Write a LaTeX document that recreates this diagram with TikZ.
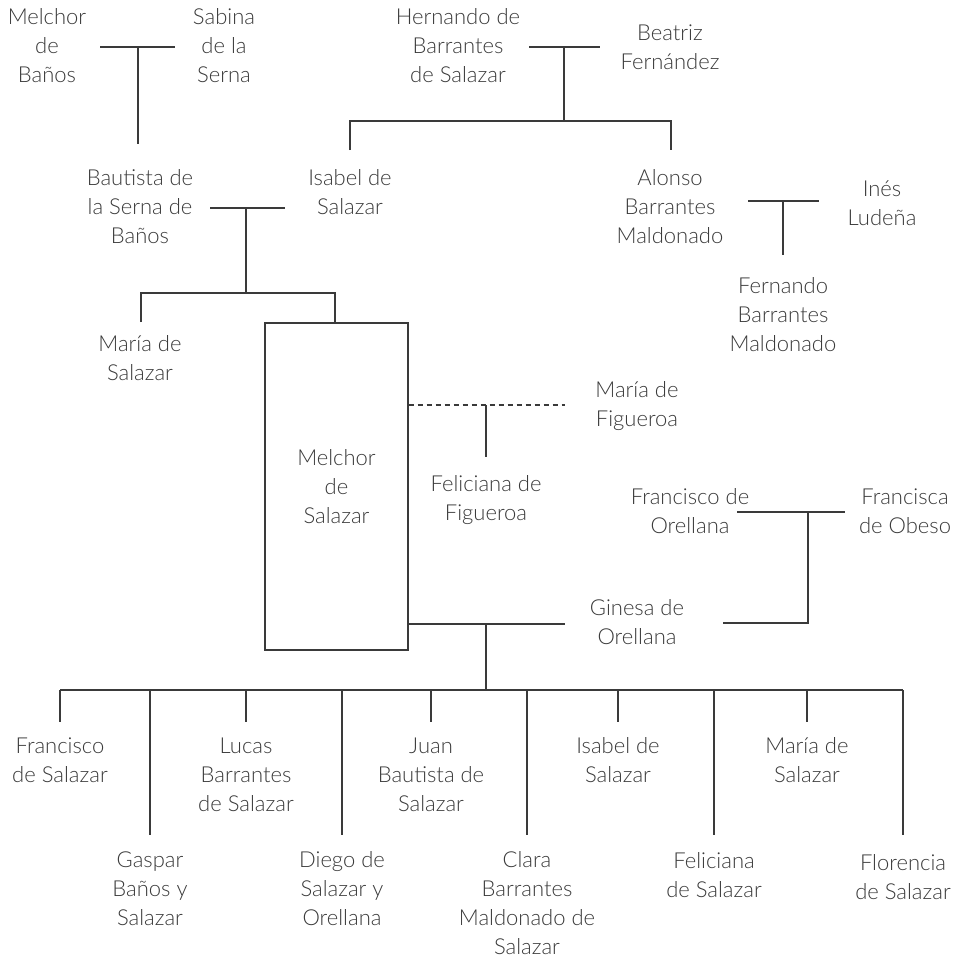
\documentclass[tikz,border=0pt]{standalone}
\usepackage{fontspec}
\setmainfont{Lato Light}
\definecolor{ink}{HTML}{3A3A3A}

\begin{document}
\begin{tikzpicture}[x=1pt,y=-1pt,
  person/.style={align=center,font=\fontsize{22}{29}\selectfont,text=ink,inner sep=0pt},
  link/.style={draw=ink,line width=1.3pt},
  box/.style={draw=ink,line width=1.3pt,minimum width=143pt,minimum height=327pt}]

\useasboundingbox (0,0) rectangle (956,959);

% First generation
\node[person] (melchorB) at (47,46) {Melchor\\de\\Baños};
\node[person] (sabina) at (224,46) {Sabina\\de la\\Serna};
\node[person] (hernando) at (458,46) {Hernando de\\Barrantes\\de Salazar};
\node[person] (beatriz) at (670,47) {Beatriz\\Fernández};

% Second generation
\node[person] (bautista) at (140,207) {Bautista de\\la Serna de\\Baños};
\node[person] (isabelS) at (350,192) {Isabel de\\Salazar};
\node[person] (alonso) at (670,207) {Alonso\\Barrantes\\Maldonado};
\node[person] (ines) at (882,203) {Inés\\Ludeña};
\node[person] (fernando) at (783,315) {Fernando\\Barrantes\\Maldonado};

% Third generation
\node[person] (mariaS) at (140,358) {María de\\Salazar};
\node[person,box] (melchorS) at (336.5,486.5) {Melchor\\de\\Salazar};
\node[person] (mariaF) at (637,406) {María de\\Figueroa};
\node[person] (felicianaF) at (486,500) {Feliciana de\\Figueroa};
\node[person] (franciscoO) at (690,511) {Francisco de\\Orellana};
\node[person] (franciscaO) at (905,511) {Francisca\\de Obeso};
\node[person] (ginesa) at (637,622) {Ginesa de\\Orellana};

% Children
\node[person] (c1) at (60,760) {Francisco\\de Salazar};
\node[person] (c2) at (150,889) {Gaspar\\Baños y\\Salazar};
\node[person] (c3) at (246,775) {Lucas\\Barrantes\\de Salazar};
\node[person] (c4) at (342,889) {Diego de\\Salazar y\\Orellana};
\node[person] (c5) at (431,775) {Juan\\Bautista de\\Salazar};
\node[person] (c6) at (527,903) {Clara\\Barrantes\\Maldonado de\\Salazar};
\node[person] (c7) at (618,760) {Isabel de\\Salazar};
\node[person] (c8) at (714,875) {Feliciana\\de Salazar};
\node[person] (c9) at (807,760) {María de\\Salazar};
\node[person] (c10) at (903,877) {Florencia\\de Salazar};

% Melchor de Baños + Sabina de la Serna
\coordinate (u1) at (138,47);
\draw[link] (100,47) -- (175,47);
\draw[link] (u1) -- (u1 |- 0,144);

% Hernando + Beatriz
\coordinate (u2) at (564,47);
\draw[link] (529,47) -- (600,47);
\draw[link] (u2) -- (564,121);
\draw[link] (350,150) -- (350,121) -- (671,121) -- (671,150);

% Bautista + Isabel
\coordinate (u3) at (246,208);
\draw[link] (210,208) -- (285,208);
\draw[link] (u3) -- (246,293);
\draw[link] (141,322) -- (141,293) -- (335,293) -- (335,323);

% Alonso + Inés
\coordinate (u4) at (783,201);
\draw[link] (748,201) -- (819,201);
\draw[link] (u4) -- (783,255);

% Melchor + María de Figueroa
\coordinate (u5) at (486,405);
\draw[link,dashed,dash pattern=on 5pt off 4pt] (melchorS.east |- u5) -- (565,405);
\draw[link] (u5) -- (486,457);

% Francisco + Francisca
\coordinate (u6) at (808,512);
\draw[link] (737,512) -- (845,512);
\draw[link] (u6) -- (808,623) -- (723,623);

% Melchor + Ginesa
\coordinate (u7) at (486,624);
\draw[link] (melchorS.east |- u7) -- (565,624);
\draw[link] (u7) -- (486,690);
\draw[link] (60,690) -- (903,690);

% Drop lines to the children
\foreach \x in {60,246,431,618,807}
  \draw[link] (\x,690) -- (\x,722);
\foreach \x in {150,342,527,714,903}
  \draw[link] (\x,690) -- (\x,835);

\end{tikzpicture}
\end{document}
